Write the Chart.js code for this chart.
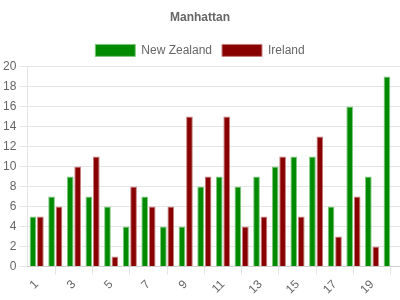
<!DOCTYPE html>
<html>
<head>
<meta charset="utf-8">
<script src="https://cdn.jsdelivr.net/npm/chart.js@4"></script>
<style>
  html, body { margin: 0; padding: 0; background: #fff; }
  #wrap { width: 400px; height: 300px; }
</style>
</head>
<body>
<div id="wrap"><canvas id="chart"></canvas></div>
<script>
const labels = ["1", "2", "3", "4", "5", "6", "7", "8", "9", "10",
  "11", "12", "13", "14", "15", "16", "17", "18", "19", "20"];
const newZealand = [5, 7, 9, 7, 6, 4, 7, 4, 4, 8, 9, 8, 9, 10, 11, 11, 6, 16, 9, 19];
const ireland = [5, 6, 10, 11, 1, 8, 6, 6, 15, 9, 15, 4, 5, 11, 5, 13, 3, 7, 2, null];

Chart.defaults.font.family = "'Liberation Sans', Arial, sans-serif";
Chart.defaults.font.size = 12;
Chart.defaults.color = "#666";

const ctx = document.getElementById("chart");
new Chart(ctx, {
  type: "bar",
  data: {
    labels: labels,
    datasets: [
      {
        label: "New Zealand",
        data: newZealand,
        backgroundColor: "#008a00",
        borderColor: "#80c880",
        borderWidth: 1,
      },
      {
        label: "Ireland",
        data: ireland,
        backgroundColor: "#880000",
        borderColor: "#c88080",
        borderWidth: 1,
      },
    ],
  },
  options: {
    responsive: true,
    maintainAspectRatio: false,
    animation: false,
    plugins: {
      title: { display: true, text: "Manhattan", font: { weight: "bold" }, padding: 10 },
      legend: { labels: { boxWidth: 40 } },
      tooltip: { enabled: false },
    },
    scales: {
      x: {
        grid: { drawOnChartArea: false, color: "rgba(0,0,0,0.1)" },
        border: { color: "rgba(0,0,0,0.1)" },
        ticks: { minRotation: 45, maxRotation: 45 },
      },
      y: {
        min: 0,
        max: 20,
        grid: { color: "rgba(0,0,0,0.1)" },
        border: { color: "rgba(0,0,0,0.1)" },
        ticks: { stepSize: 2 },
      },
    },
  },
});
</script>
</body>
</html>
